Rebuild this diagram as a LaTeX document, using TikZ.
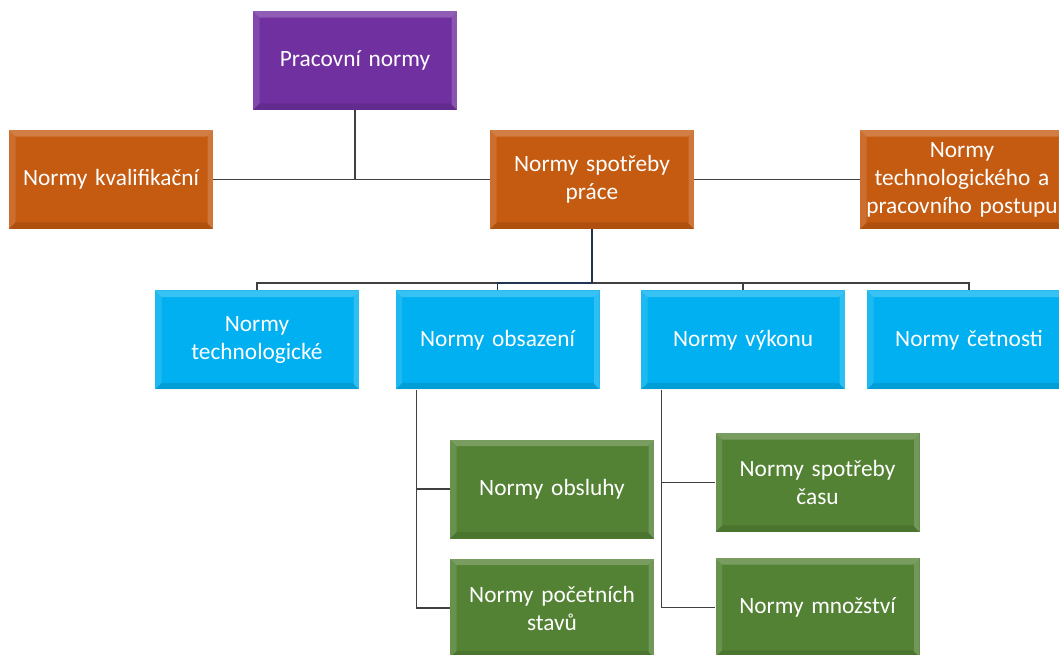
\documentclass[tikz,border=0pt]{standalone}
\usepackage{fontspec}
\setmainfont{Carlito}
\usetikzlibrary{calc}
\definecolor{cpurple}{HTML}{7030A0}
\definecolor{corange}{HTML}{C55A11}
\definecolor{cblue}{HTML}{00B0F0}
\definecolor{cgreen}{HTML}{548235}
\definecolor{cline}{HTML}{404040}
\definecolor{cnavy}{HTML}{1F3550}
\tikzset{
  box/.style={rectangle, fill=#1, minimum width=153pt, minimum height=74.25pt,
    text width=150pt, align=center, inner sep=0pt, text=white,
    font=\fontsize{17.5}{21}\selectfont,
    path picture={
      \fill[white,opacity=0.22] (path picture bounding box.north west) -- (path picture bounding box.north east)
        -- ([xshift=-5pt,yshift=-5pt]path picture bounding box.north east) -- ([xshift=5pt,yshift=-5pt]path picture bounding box.north west) -- cycle;
      \fill[white,opacity=0.12] (path picture bounding box.north west) -- (path picture bounding box.south west)
        -- ([xshift=5pt,yshift=5pt]path picture bounding box.south west) -- ([xshift=5pt,yshift=-5pt]path picture bounding box.north west) -- cycle;
      \fill[black,opacity=0.10] (path picture bounding box.south west) -- (path picture bounding box.south east)
        -- ([xshift=-5pt,yshift=5pt]path picture bounding box.south east) -- ([xshift=5pt,yshift=5pt]path picture bounding box.south west) -- cycle;
      \fill[white,opacity=0.18] (path picture bounding box.north east) -- (path picture bounding box.south east)
        -- ([xshift=-4pt,yshift=4pt]path picture bounding box.south east) -- ([xshift=-4pt,yshift=-4pt]path picture bounding box.north east) -- cycle;
    }},
  conn/.style={draw=cline, line width=1.1pt}
}
\begin{document}
\begin{tikzpicture}[x=0.75pt,y=-0.75pt]
\useasboundingbox (0,0) rectangle (1059,655);
\clip (0,0) rectangle (1059,655);
\node[box=cpurple] (prac) at (355,60.5) {Pracovní normy};
\node[box=corange] (kval) at (111,179.5) {Normy kvalifikační};
\node[box=corange] (spot) at (592,179.5) {Normy spotřeby\\práce};
\node[box=corange] (post) at (962,179.5) {Normy\\technologického a\\pracovního postupu};
\node[box=cblue] (tech) at (257,340) {Normy\\technologické};
\node[box=cblue] (obsaz) at (497.5,340) {Normy obsazení};
\node[box=cblue] (vykon) at (743,340) {Normy výkonu};
\node[box=cblue] (cetn) at (969,340) {Normy četnosti};
\node[box=cgreen] (obsl) at (552,489) {Normy obsluhy};
\node[box=cgreen] (stav) at (552,608) {Normy početních\\stavů};
\node[box=cgreen] (cas) at (817.5,482.5) {Normy spotřeby\\času};
\node[box=cgreen] (mnoz) at (817.5,607.5) {Normy množství};
\coordinate (bus) at (0,283);
\coordinate (oline) at ([xshift=15.75pt]obsaz.south west);
\coordinate (vline) at ([xshift=15.75pt]vykon.south west);
\draw[conn] (kval.east) -- (spot.west);
\draw[conn] (spot.east) -- (post.west);
\draw[conn] (prac.south) -- (prac.south |- kval.east);
\draw[conn] (spot.south |- bus) -| (tech.north);
\draw[conn] (spot.south |- bus) -| (cetn.north);
\draw[conn] (spot.south |- bus) -| (vykon.north);
\draw[conn,draw=cnavy] (spot.south) -- (spot.south |- bus) -| (obsaz.north);
\draw[conn] (oline) |- (obsl.west);
\draw[conn] (oline) |- (stav.west);
\draw[conn] (vline) |- (cas.west);
\draw[conn] (vline) |- (mnoz.west);
\end{tikzpicture}
\end{document}
